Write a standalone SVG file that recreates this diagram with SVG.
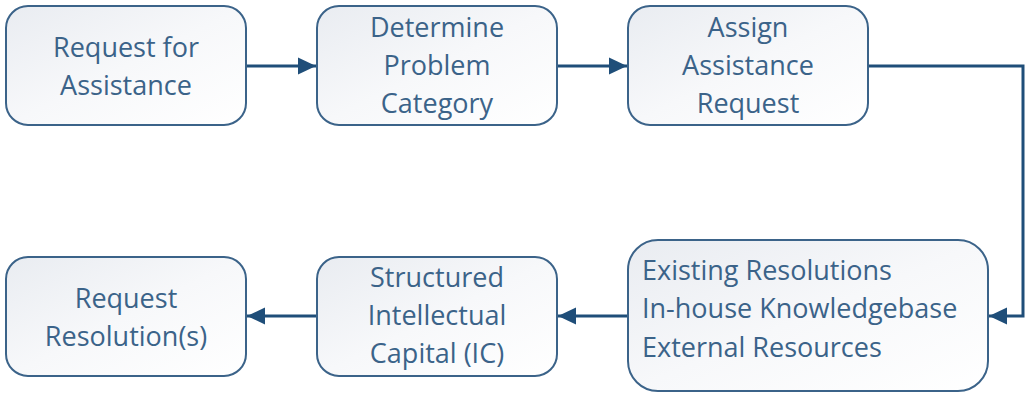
<svg xmlns="http://www.w3.org/2000/svg" width="1027" height="394" viewBox="0 0 1027 394">
<defs>
<linearGradient id="g" x1="0" y1="0" x2="1" y2="1">
<stop offset="0" stop-color="#e9ecf1"/>
<stop offset="0.5" stop-color="#f7f8fa"/>
<stop offset="1" stop-color="#ffffff"/>
</linearGradient>
<marker id="arr" markerWidth="18" markerHeight="18" refX="18" refY="9" orient="auto" markerUnits="userSpaceOnUse" viewBox="0 0 18 18">
<path d="M0,0.5 L18,9 L0,17.5 z" fill="#1f4e79"/>
</marker>
<style>
.box{fill:url(#g);stroke:#3b6389;stroke-width:2}
.t{font-family:"Open Sans","Liberation Sans",sans-serif;font-size:27px;fill:#3b6389}
.c{text-anchor:middle}
.ln{fill:none;stroke:#1f4e79;stroke-width:3}
</style>
</defs>
<g id="connectors">
<path class="ln" d="M246,66 H316" marker-end="url(#arr)"/>
<path class="ln" d="M557,66 H627" marker-end="url(#arr)"/>
<path class="ln" d="M868,66 H1023 V316 H989" marker-end="url(#arr)"/>
<path class="ln" d="M628,316 H558" marker-end="url(#arr)"/>
<path class="ln" d="M317,316 H247" marker-end="url(#arr)"/>
</g>
<g id="n1"><rect class="box" x="6" y="6" width="240" height="119" rx="22"/>
<text class="t c" x="126" y="57">Request for</text><text class="t c" x="126" y="95">Assistance</text></g>
<g id="n2"><rect class="box" x="317" y="6" width="240" height="119" rx="22"/>
<text class="t c" x="437" y="37">Determine</text><text class="t c" x="437" y="75">Problem</text><text class="t c" x="437" y="113">Category</text></g>
<g id="n3"><rect class="box" x="628" y="6" width="240" height="119" rx="22"/>
<text class="t c" x="748" y="37">Assign</text><text class="t c" x="748" y="75">Assistance</text><text class="t c" x="748" y="113">Request</text></g>
<g id="n4"><rect class="box" x="628" y="240" width="360" height="151" rx="30"/>
<text class="t" x="642" y="280">Existing Resolutions</text><text class="t" x="642" y="318">In-house Knowledgebase</text><text class="t" x="642" y="357">External Resources</text></g>
<g id="n5"><rect class="box" x="317" y="257" width="240" height="119" rx="22"/>
<text class="t c" x="437" y="287">Structured</text><text class="t c" x="437" y="325">Intellectual</text><text class="t c" x="437" y="363">Capital (IC)</text></g>
<g id="n6"><rect class="box" x="6" y="257" width="240" height="119" rx="22"/>
<text class="t c" x="126" y="308">Request</text><text class="t c" x="126" y="346">Resolution(s)</text></g>
</svg>
